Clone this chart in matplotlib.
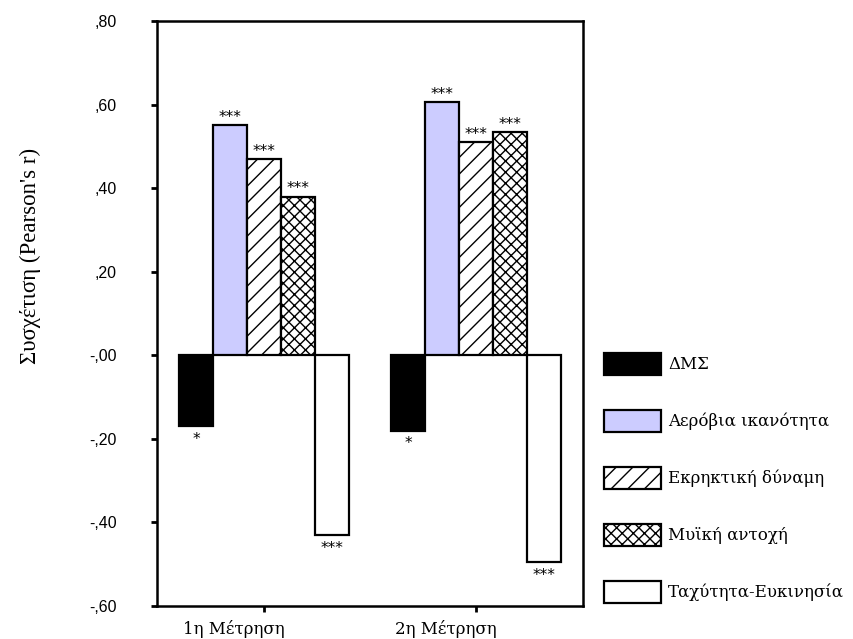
import matplotlib

matplotlib.use("Agg")
import matplotlib.pyplot as plt
import matplotlib.transforms as mtransforms
import numpy as np

# measurements (x axis groups)
categories = ["1η Μέτρηση", "2η Μέτρηση"]

# correlation of each fitness component per measurement
series_names = [
    "ΔΜΣ",
    "Αερόβια ικανότητα",
    "Εκρηκτική δύναμη",
    "Μυϊκή αντοχή",
    "Ταχύτητα-Ευκινησία",
]
dms = [-0.17, -0.18]
aerobic = [0.55, 0.605]
explosive = [0.47, 0.51]
endurance = [0.38, 0.535]
speed = [-0.43, -0.495]

dms_sig = ["*", "*"]
aerobic_sig = ["***", "***"]
explosive_sig = ["***", "***"]
endurance_sig = ["***", "***"]
speed_sig = ["***", "***"]

y_ticks = [0.8, 0.6, 0.4, 0.2, 0.0, -0.2, -0.4, -0.6]
y_tick_labels = [",80", ",60", ",40", ",20", "-,00", "-,20", "-,40", "-,60"]
y_label = "Συσχέτιση (Pearson's r)"

SERIF = ["Liberation Serif", "DejaVu Serif"]
WIDE_SERIF = ["DejaVu Serif"]
SANS = ["Liberation Sans", "DejaVu Sans"]

styles = [
    dict(color="black", hatch=None),
    dict(color="#ccccff", hatch=None),
    dict(color="white", hatch="//"),
    dict(color="white", hatch="xxx"),
    dict(color="white", hatch=None),
]

plt.rcParams["hatch.linewidth"] = 1.0

fig = plt.figure(figsize=(8.54, 6.39), dpi=100)
ax = fig.add_axes([157 / 854, 33 / 639, 426 / 854, 585 / 639])

values = [dms, aerobic, explosive, endurance, speed]
sigs = [dms_sig, aerobic_sig, explosive_sig, endurance_sig, speed_sig]
x = np.arange(len(categories))
bar_width = 0.16
offsets = (np.arange(len(values)) - (len(values) - 1) / 2) * bar_width

handles = []
for vals, sig, name, style, off in zip(values, sigs, series_names, styles, offsets):
    bars = ax.bar(
        x + off,
        vals,
        bar_width,
        color=style["color"],
        hatch=style["hatch"],
        edgecolor="black",
        linewidth=1.6,
        label=name,
        zorder=2,
    )
    handles.append(bars)
    for bar, v, s in zip(bars, vals, sig):
        cx = bar.get_x() + bar.get_width() / 2
        if v >= 0:
            ax.annotate(s, (cx, v), xytext=(0, 0), textcoords="offset points",
                        ha="center", va="bottom", fontsize=11, family=["DejaVu Sans"])
        else:
            ax.annotate(s, (cx, v), xytext=(0, -4), textcoords="offset points",
                        ha="center", va="top", fontsize=11, family=["DejaVu Sans"])

ax.set_xlim(-0.505, 1.505)
ax.set_ylim(-0.6, 0.8)
ax.set_yticks(y_ticks)
ax.set_yticklabels(y_tick_labels, family=SANS, fontsize=11.5)
ax.set_xticks(x)
ax.set_xticklabels(categories, family=WIDE_SERIF, fontsize=12)
ax.tick_params(axis="y", direction="out", length=4, width=2, pad=25)
ax.tick_params(axis="x", direction="out", length=4, width=2, pad=6)

shift = mtransforms.ScaledTranslation(-0.3, 0, fig.dpi_scale_trans)
for lbl in ax.get_xticklabels():
    lbl.set_transform(lbl.get_transform() + shift)

for spine in ax.spines.values():
    spine.set_linewidth(1.8)

ax.set_ylabel(y_label, family=SERIF, fontsize=16.5, va="center")
ax.yaxis.set_label_coords(-0.298, 0.598)

fig.legend(
    handles=handles,
    labels=series_names,
    loc="upper left",
    bbox_to_anchor=(589 / 854, 1 - 338 / 639),
    frameon=False,
    prop={"family": WIDE_SERIF, "size": 12},
    handlelength=3.4,
    handleheight=1.65,
    labelspacing=2.1,
    handletextpad=0.45,
)

fig.savefig("out.png", dpi=100)
